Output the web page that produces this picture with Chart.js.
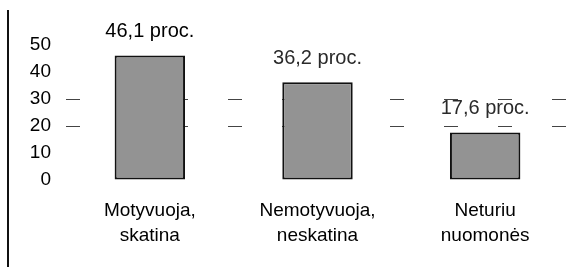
<!DOCTYPE html>
<html>
<head>
<meta charset="utf-8">
<script src="https://cdn.jsdelivr.net/npm/chart.js@4.4.1/dist/chart.umd.min.js"></script>
<style>
  html, body { margin: 0; padding: 0; background: #fff; }
  #wrap { position: relative; width: 585px; height: 274px; }
  #borde { position: absolute; left: 7px; top: 10px; width: 2px; height: 257px; background: #111; }
</style>
</head>
<body>
<div id="wrap">
  <div id="borde"></div>
  <canvas id="myChart" width="585" height="274"></canvas>
</div>
<script>
const categorias = [["Motyvuoja,", "skatina"], ["Nemotyvuoja,", "neskatina"], ["Neturiu", "nuomonės"]];
const valores = [46.1, 36.2, 17.6];
const etiquetas = ["46,1 proc.", "36,2 proc.", "17,6 proc."];
const ticksY = [0, 10, 20, 30, 40, 50];

const myChartCtx = document.querySelector("#myChart").getContext('2d');

// texto encima de cada barra
const etiquetasBarras = {
    id: 'etiquetasBarras',
    afterDatasetsDraw(chart) {
        const ctx = chart.ctx;
        const meta = chart.getDatasetMeta(0);
        ctx.save();
        ctx.font = '20px Arial, "Liberation Sans", sans-serif';
        ctx.textAlign = 'center';
        ctx.textBaseline = 'middle';
        meta.data.forEach((bar, i) => {
            ctx.fillStyle = i === 0 ? '#000' : '#2a2a2a';
            ctx.fillText(etiquetas[i], bar.x, bar.y - 24);
        });
        ctx.restore();
    }
};

const myChart = new Chart(myChartCtx, {
    type: 'bar',
    data: {
        labels: categorias,
        datasets: [{
            data: valores,
            backgroundColor: '#939393',
            borderColor: '#111',
            borderWidth: 2,
            borderSkipped: false,
            barPercentage: 1,
            categoryPercentage: 0.42
        }]
    },
    options: {
        responsive: false,
        animation: false,
        layout: { padding: { top: 45, right: 16, left: 0, bottom: 0 } },
        plugins: { legend: { display: false }, tooltip: { enabled: false } },
        scales: {
            x: {
                grid: { display: false, drawTicks: false },
                border: { display: false },
                ticks: {
                    color: '#000',
                    padding: 18,
                    font: { family: 'Arial, "Liberation Sans", sans-serif', size: 19, lineHeight: 1.32 }
                },
                afterFit(scale) { scale.height = 94; }
            },
            y: {
                min: 0,
                max: 50,
                afterBuildTicks(scale) { scale.ticks = ticksY.map(v => ({ value: v })); },
                grid: {
                    drawTicks: false,
                    color: ctx => (ctx.tick && (ctx.tick.value === 20 || ctx.tick.value === 30)) ? '#444' : 'rgba(0,0,0,0)',
                    lineWidth: 1
                },
                border: { display: false, dash: [14, 40] },
                ticks: {
                    color: '#000',
                    padding: 15,
                    font: { family: 'Arial, "Liberation Sans", sans-serif', size: 19 }
                },
                afterFit(scale) { scale.width = 66; }
            }
        }
    },
    plugins: [etiquetasBarras]
});
</script>
</body>
</html>
